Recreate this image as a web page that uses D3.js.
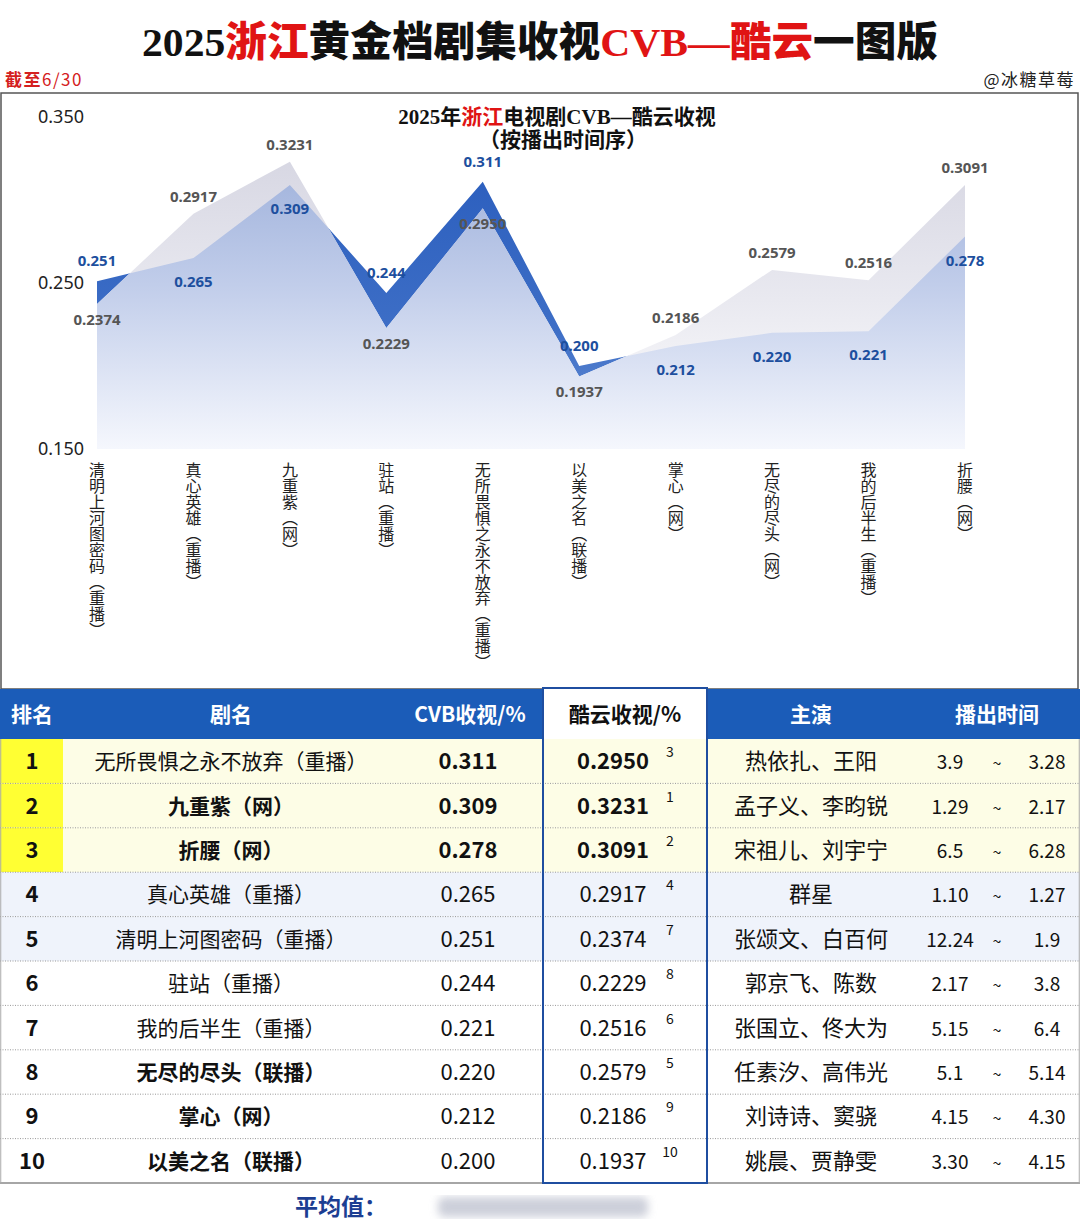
<!DOCTYPE html>
<html>
<head>
<meta charset="utf-8">
<script src="https://cdn.jsdelivr.net/npm/d3@7"></script>
<style>
  body { margin: 0; background: #fff; }
  text { font-family: "Noto Sans CJK SC", "Noto Sans", sans-serif; }
</style>
</head>
<body>
<div id="chart"></div>
<script>
// dramas in broadcast order
const dramas = ["清明上河图密码（重播）", "真心英雄（重播）", "九重紫（网）", "驻站（重播）",
  "无所畏惧之永不放弃（重播）", "以美之名（联播）", "掌心（网）", "无尽的尽头（网）",
  "我的后半生（重播）", "折腰（网）"];
const tableNames = ["清明上河图密码（重播）", "真心英雄（重播）", "九重紫（网）", "驻站（重播）",
  "无所畏惧之永不放弃（重播）", "以美之名（联播）", "掌心（网）", "无尽的尽头（联播）",
  "我的后半生（重播）", "折腰（网）"];
const cvb = [0.251, 0.265, 0.309, 0.244, 0.311, 0.200, 0.212, 0.220, 0.221, 0.278];
const kuyun = [0.2374, 0.2917, 0.3231, 0.2229, 0.2950, 0.1937, 0.2186, 0.2579, 0.2516, 0.3091];
const actors = ["张颂文、白百何", "群星", "孟子义、李昀锐", "郭京飞、陈数", "热依扎、王阳",
  "姚晨、贾静雯", "刘诗诗、窦骁", "任素汐、高伟光", "张国立、佟大为", "宋祖儿、刘宇宁"];
const airStart = ["12.24", "1.10", "1.29", "2.17", "3.9", "3.30", "4.15", "5.1", "5.15", "6.5"];
const airEnd = ["1.9", "1.27", "2.17", "3.8", "3.28", "4.15", "4.30", "5.14", "6.4", "6.28"];
const yTicks = [0.15, 0.25, 0.35];
const boldNames = ["九重紫（网）", "折腰（网）", "无尽的尽头（联播）", "掌心（网）", "以美之名（联播）"];
const headers = ["排名", "剧名", "CVB收视/%", "酷云收视/%", "主演", "播出时间"];

const width = 1080, height = 1229;
const serif = '"Liberation Serif", "Noto Sans CJK SC", serif';

const svg = d3.select("#chart").append("svg")
  .attr("width", width).attr("height", height);

/** TITLE */
const title = svg.append("text")
  .attr("x", 540).attr("y", 56)
  .attr("text-anchor", "middle")
  .attr("textLength", 796).attr("lengthAdjust", "spacingAndGlyphs")
  .style("font-family", serif).style("font-weight", 900).style("font-size", "41px");
[["2025", "#111"], ["浙江", "#e01414"], ["黄金档剧集收视", "#111"], ["CVB—酷云", "#e01414"], ["一图版", "#111"]]
  .forEach(([t, c]) => title.append("tspan").attr("fill", c).text(t));

const asOf = svg.append("text").attr("x", 5).attr("y", 86).style("font-size", "17px")
  .style("letter-spacing", "1.5px").attr("fill", "#d42020");
asOf.append("tspan").style("font-family", serif).style("font-weight", 700).text("截至");
asOf.append("tspan").text("6/30");

svg.append("text").attr("x", 1075).attr("y", 86).attr("text-anchor", "end")
  .style("font-size", "17px").style("letter-spacing", "1.5px").attr("fill", "#222").text("@冰糖草莓");

/** CHART BOX */
svg.append("rect").attr("x", 1).attr("y", 93).attr("width", 1077).attr("height", 596)
  .attr("fill", "#fff").attr("stroke", "#555").attr("stroke-width", 1.5);

const ct = svg.append("text").attr("x", 557).attr("y", 124).attr("text-anchor", "middle")
  .style("font-family", serif).style("font-weight", 700).style("font-size", "21px").attr("fill", "#111");
ct.append("tspan").text("2025年");
ct.append("tspan").attr("fill", "#e01414").text("浙江");
ct.append("tspan").text("电视剧CVB—酷云收视");
svg.append("text").attr("x", 563).attr("y", 147).attr("text-anchor", "middle")
  .style("font-family", serif).style("font-weight", 700).style("font-size", "21px").attr("fill", "#111")
  .text("（按播出时间序）");

/** SCALES */
const x = d3.scalePoint().domain(d3.range(dramas.length)).range([97, 965]);
const y = d3.scaleLinear().domain([0.15, 0.35]).range([449, 117]);

const area = d3.area().x((d, i) => x(i)).y0(y(0.15)).y1(d => y(d));

const defs = svg.append("defs");
function grad(id, stops) {
  const g = defs.append("linearGradient").attr("id", id)
    .attr("gradientUnits", "userSpaceOnUse").attr("x1", 0).attr("x2", 0).attr("y1", 150).attr("y2", 449);
  stops.forEach(([o, c]) => g.append("stop").attr("offset", o).attr("stop-color", c));
}
grad("darkBlue", [[0, "#2a5dbd"], [0.6, "#3d6ec6"], [1, "#6a91d6"]]);
grad("grayFill", [[0, "#d6d6e2"], [0.5, "#e9e9f0"], [1, "#ffffff"]]);
grad("lightBlue", [[0, "#9cafda"], [0.45, "#c1cdea"], [1, "#f5f7fd"]]);

defs.append("clipPath").attr("id", "underKuyun").append("path").attr("d", area(kuyun));

svg.append("path").attr("d", area(cvb)).attr("fill", "url(#darkBlue)");
svg.append("path").attr("d", area(kuyun)).attr("fill", "url(#grayFill)");
svg.append("path").attr("d", area(cvb)).attr("fill", "url(#lightBlue)").attr("clip-path", "url(#underKuyun)");

/** AXIS */
const yAxis = d3.axisLeft(y).tickValues(yTicks).tickFormat(d3.format(".3f")).tickSize(0);
const gy = svg.append("g").attr("transform", "translate(38,0)").call(yAxis);
gy.select(".domain").remove();
gy.selectAll("text").attr("x", 0).attr("text-anchor", "start")
  .style("font-family", '"Noto Sans", sans-serif').style("font-size", "18px").attr("fill", "#222");

/** DATA LABELS */
const labelFont = '"Noto Sans", sans-serif';
svg.selectAll(".cvbLabel").data(cvb).join("text").attr("class", "cvbLabel")
  .attr("x", (d, i) => x(i))
  .attr("y", (d, i) => d > kuyun[i] ? y(d) - 15 : y(d) + 29)
  .attr("text-anchor", "middle")
  .style("font-family", labelFont).style("font-weight", 700).style("font-size", "15px")
  .attr("fill", "#1d4f9e").text(d => d3.format(".3f")(d));

svg.selectAll(".kyLabel").data(kuyun).join("text").attr("class", "kyLabel")
  .attr("x", (d, i) => x(i))
  .attr("y", (d, i) => d >= cvb[i] ? y(d) - 12 : y(d) + 21)
  .attr("text-anchor", "middle")
  .style("font-family", labelFont).style("font-weight", 700).style("font-size", "15px")
  .attr("fill", "#555").text(d => d3.format(".4f")(d));

/** X LABELS (vertical) */
svg.selectAll(".xLabel").data(dramas).join("text").attr("class", "xLabel")
  .attr("x", (d, i) => x(i)).attr("y", 462)
  .style("writing-mode", "vertical-rl")
  .style("font-size", "16px").attr("fill", "#222")
  .text(d => d);

/** TABLE */
const order = d3.range(cvb.length).sort((a, b) => cvb[b] - cvb[a]);
const kyOrder = d3.range(kuyun.length).sort((a, b) => kuyun[b] - kuyun[a]);
const kyRank = kyOrder.reduce((m, idx, r) => (m[idx] = r + 1, m), {});

const row = d3.scaleBand().domain(d3.range(order.length)).range([739, 1183]);
const col = { rank: 32, name: 231, cvb: 468, ky: 613, kyRank: 670, actor: 811, start: 950, tilde: 997, end: 1047 };
const kyX0 = 543, kyX1 = 707;

// header
svg.append("rect").attr("x", 0).attr("y", 689).attr("width", width).attr("height", 50).attr("fill", "#1b5cb8");
svg.append("rect").attr("x", kyX0).attr("y", 689).attr("width", kyX1 - kyX0).attr("height", 50).attr("fill", "#fff");
const headerX = [col.rank, col.name, 470, 625, col.actor, col.tilde];
svg.selectAll(".hdr").data(headers).join("text").attr("class", "hdr")
  .attr("x", (d, i) => headerX[i]).attr("y", 722).attr("text-anchor", "middle")
  .style("font-weight", 700).style("font-size", "21px")
  .attr("fill", (d, i) => i === 3 ? "#111" : "#fff").text(d => d);

const rows = svg.selectAll(".row").data(order).join("g").attr("class", "row")
  .attr("transform", (d, r) => `translate(0,${row(r)})`);
const rh = row.bandwidth();

rows.append("rect").attr("width", width).attr("height", rh)
  .attr("fill", (d, r) => r < 3 ? "#fdfde6" : r < 5 ? "#eff3fb" : "#fff");
rows.filter((d, r) => r < 3).append("rect").attr("width", 63).attr("height", rh).attr("fill", "#ffff33");
rows.filter((d, r) => r > 0).append("line").attr("x1", 0).attr("x2", width).attr("y1", 0).attr("y2", 0)
  .attr("stroke", "#999").attr("stroke-dasharray", "1,1.5");

const ty = rh / 2 + 8;
function cell(cls, xPos, textFn, opts = {}) {
  rows.append("text").attr("class", cls)
    .attr("x", xPos).attr("y", opts.dy != null ? opts.dy : ty)
    .attr("text-anchor", opts.anchor || "middle")
    .style("font-size", (opts.size || 22) + "px")
    .style("font-weight", opts.bold || 400)
    .attr("fill", "#111")
    .text(textFn);
}
cell("rk", col.rank, (d, r) => r + 1, { bold: 700 });
rows.append("text").attr("x", col.name).attr("y", ty).attr("text-anchor", "middle")
  .style("font-size", "21px").attr("fill", "#111")
  .style("font-weight", d => boldNames.includes(tableNames[d]) ? 700 : 400)
  .text(d => tableNames[d]);
rows.append("text").attr("x", col.cvb).attr("y", ty).attr("text-anchor", "middle")
  .style("font-size", "22px").style("font-weight", (d, r) => r < 3 ? 700 : 400).attr("fill", "#111")
  .text(d => d3.format(".3f")(cvb[d]));
rows.append("text").attr("x", col.ky).attr("y", ty).attr("text-anchor", "middle")
  .style("font-size", "22px").style("font-weight", (d, r) => r < 3 ? 700 : 400).attr("fill", "#111")
  .text(d => d3.format(".4f")(kuyun[d]));
cell("kr", col.kyRank, d => kyRank[d], { size: 14, dy: rh / 2 - 4 });
cell("ac", col.actor, d => actors[d]);
cell("st", col.start, d => airStart[d], { size: 19 });
cell("tl", col.tilde, () => "~", { size: 16 });
cell("en", col.end, d => airEnd[d], { size: 19 });

// borders
svg.append("line").attr("x1", 0).attr("x2", width).attr("y1", 1183).attr("y2", 1183)
  .attr("stroke", "#888").attr("stroke-width", 1.5);
[0.75, 1079.25].forEach(xx => svg.append("line").attr("x1", xx).attr("x2", xx)
  .attr("y1", 739).attr("y2", 1183).attr("stroke", "#aaa"));
svg.append("rect").attr("x", kyX0).attr("y", 688).attr("width", kyX1 - kyX0).attr("height", 1183 - 688)
  .attr("fill", "none").attr("stroke", "#1f4ea0").attr("stroke-width", 2);

/** FOOTER */
svg.append("text").attr("x", 295).attr("y", 1215)
  .style("font-family", serif).style("font-weight", 700).style("font-size", "23px")
  .attr("fill", "#1c3e92").text("平均值：");
defs.append("filter").attr("id", "blur").append("feGaussianBlur").attr("stdDeviation", 4);
svg.append("rect").attr("x", 438).attr("y", 1197).attr("width", 210).attr("height", 20).attr("rx", 6)
  .attr("fill", "#b8bccb").attr("opacity", 0.7).attr("filter", "url(#blur)");
</script>
</body>
</html>
